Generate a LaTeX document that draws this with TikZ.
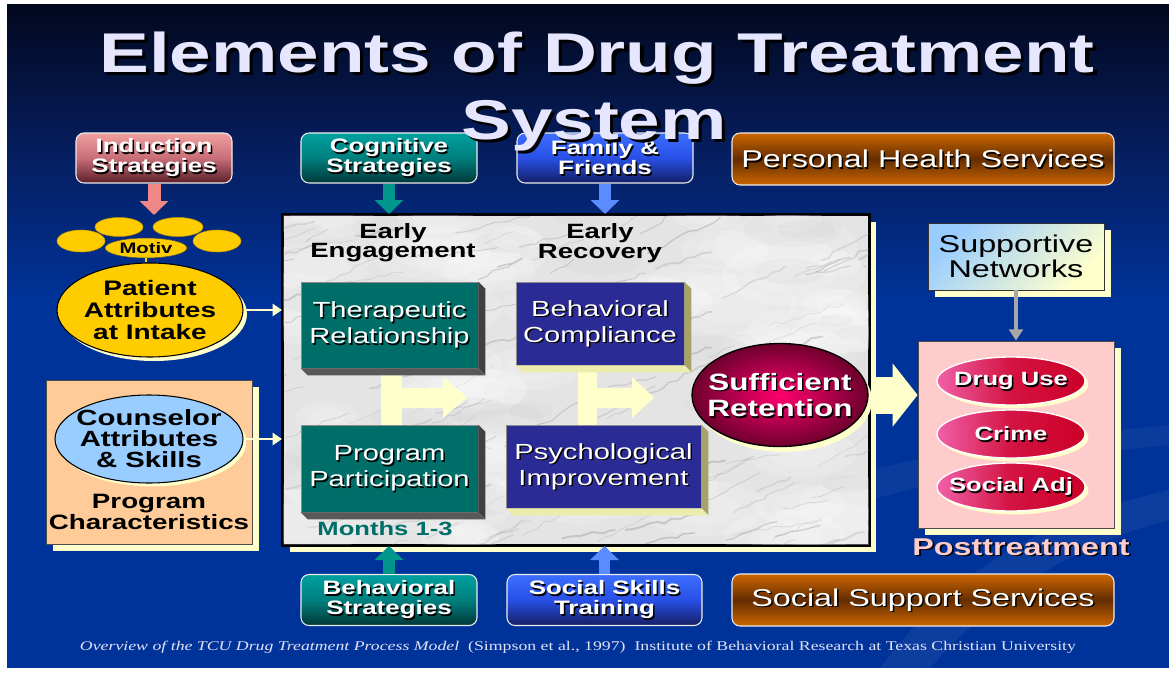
\documentclass[tikz,border=0pt]{standalone}
\usepackage{fontspec}
\setmainfont{Liberation Sans}[FakeStretch=1.333]
\newfontfamily\footfont{Liberation Serif}[FakeStretch=1.333]
\usetikzlibrary{shapes.geometric, arrows.meta, shadows, decorations.pathmorphing, calc}

% palette
\definecolor{slideblue}{RGB}{0,51,153}
\definecolor{navytop}{RGB}{2,8,30}
\definecolor{navymid}{RGB}{6,30,95}
\definecolor{titlec}{RGB}{230,230,255}
\definecolor{paleyellow}{RGB}{255,255,204}
\definecolor{gold}{RGB}{255,204,0}
\definecolor{golddark}{RGB}{200,150,0}
\definecolor{peach}{RGB}{255,204,153}
\definecolor{skyblue}{RGB}{153,204,255}
\definecolor{pinkbox}{RGB}{255,204,204}
\definecolor{tealface}{RGB}{0,110,104}
\definecolor{indigoface}{RGB}{43,43,150}
\definecolor{tealarr}{RGB}{0,150,140}
\definecolor{bluearr}{RGB}{90,140,255}
\definecolor{pinkarr}{RGB}{240,136,136}
\definecolor{marble}{RGB}{228,228,228}
\definecolor{pinktop}{RGB}{240,160,160}
\definecolor{pinkmid}{RGB}{200,110,120}
\definecolor{pinkbot}{RGB}{90,30,40}
\definecolor{tealtop}{RGB}{0,160,160}
\definecolor{tealmid}{RGB}{0,128,126}
\definecolor{tealbot}{RGB}{0,55,55}
\definecolor{bluetop}{RGB}{60,110,255}
\definecolor{bluemid}{RGB}{40,80,230}
\definecolor{bluebot}{RGB}{20,30,100}
\definecolor{orangetop}{RGB}{204,102,0}
\definecolor{orangemid}{RGB}{100,45,0}
\definecolor{suffin}{RGB}{255,0,110}
\definecolor{suffout}{RGB}{110,0,45}
\definecolor{ellpink}{RGB}{240,96,168}
\definecolor{ellred}{RGB}{204,0,40}
\definecolor{footc}{RGB}{225,225,245}
\definecolor{postc}{RGB}{255,204,204}

% text with a small dark drop shadow
\newcommand\txtsh[2][1.1pt]{\leavevmode\rlap{\raisebox{-#1}[0pt][0pt]{\kern#1\textcolor{black}{#2}}}#2}
% side and bottom faces of a raised box
\newcommand\extrude[4]{%
  \fill[#3] (#1.north east) -- ++(#2,#2) -- ($(#1.south east)+(#2,#2)$) -- (#1.south east) -- cycle;
  \fill[#4] (#1.south west) -- ++(#2,#2) -- ($(#1.south east)+(#2,#2)$) -- (#1.south east) -- cycle;}

\tikzset{
  titletext/.style={anchor=base, inner sep=0pt, text=titlec, font=\fontsize{42}{42}\selectfont\bfseries},
  gbox/.style={draw=white!85!gray, line width=0.8pt, rounded corners=6pt, inner sep=0pt,
    align=center, text=white, font=\fontsize{14.6}{15}\selectfont\bfseries},
  sbox/.style={gbox, font=\fontsize{18.2}{20}\selectfont},
  pinkg/.style={top color=pinktop, bottom color=pinkbot, middle color=pinkmid},
  tealg/.style={top color=tealtop, bottom color=tealbot, middle color=tealmid},
  blueg/.style={top color=bluetop, bottom color=bluebot, middle color=bluemid},
  orangeg/.style={top color=orangetop, bottom color=orangetop, middle color=orangemid},
  pshadow/.style={general shadow={fill=paleyellow, shadow xshift=5pt, shadow yshift=-5pt}},
  sshadow/.style={general shadow={fill=paleyellow, shadow xshift=2.5pt, shadow yshift=-2.5pt}},
  blockarrow/.style={line width=8.5pt, -{Triangle[width=21pt,length=10.5pt]}},
  thinarrow/.style={paleyellow, line width=2pt, -{Triangle[width=9pt,length=7pt]}},
  grayarrow/.style={gray!70, line width=2.4pt, -{Triangle[width=10.5pt,length=8.5pt]}},
  face/.style={draw=black!45, line width=0.5pt, inner sep=0pt, align=center, text=white,
    font=\fontsize{16.4}{19.5}\selectfont},
  hdr/.style={inner sep=0pt, align=center, text=black, font=\fontsize{15.5}{14.5}\selectfont\bfseries},
  lbl/.style={inner sep=0pt, align=center},
  goldell/.style={ellipse, fill=gold, draw=golddark, line width=0.4pt, inner sep=0pt},
  outell/.style={ellipse, draw=white, line width=1pt, inner sep=0pt, left color=ellpink,
    right color=ellred, middle color=ellred!80!ellpink,
    minimum width=111pt, minimum height=36pt, sshadow},
  outlbl/.style={lbl, text=white, font=\fontsize{14.4}{15}\selectfont\bfseries},
}

\begin{document}
\begin{tikzpicture}[x=0.75pt,y=-0.75pt]
\useasboundingbox (0,0) rectangle (1169,674);
% slide background
\fill[white] (0,0) rectangle (1169,674);
\fill[slideblue] (7,5) rectangle (1169,668);
\shade[top color=navytop, bottom color=slideblue, middle color=navymid] (7,5) rectangle (1169,300);
\fill[white, opacity=0.05] (880,668) .. controls (960,560) and (1060,515) .. (1169,490)
  -- (1169,520) .. controls (1070,545) and (990,600) .. (930,668) -- cycle;
\fill[white, opacity=0.04] (870,470) .. controls (950,450) and (1060,435) .. (1169,425)
  -- (1169,445) .. controls (1060,455) and (960,475) .. (870,500) -- cycle;

% top row
\node[gbox, pinkg, minimum width=117pt, minimum height=37.5pt] (ind) at (154,158) {\txtsh{Induction}\\\txtsh{Strategies}};
\node[gbox, tealg, minimum width=132pt, minimum height=37.5pt] (cog) at (389,158) {\txtsh{Cognitive}\\\txtsh{Strategies}};
\node[gbox, blueg, minimum width=132pt, minimum height=37.5pt] (fam) at (605,158) {\txtsh{Family \&}\\\txtsh{Friends}};
\node[sbox, orangeg, minimum width=286.5pt, minimum height=39pt] (phs) at (923,159) {\txtsh{Personal Health Services}};

% bottom row
\node[gbox, tealg, minimum width=132pt, minimum height=38.25pt] (beh) at (389,600) {\txtsh{Behavioral}\\\txtsh{Strategies}};
\node[gbox, blueg, minimum width=146.25pt, minimum height=38.25pt] (ssk) at (604.5,600) {\txtsh{Social Skills}\\\txtsh{Training}};
\node[sbox, orangeg, minimum width=286.5pt, minimum height=39pt] (sss) at (923,600) {\txtsh{Social Support Services}};

% main treatment panel with a marble surface
\node[draw=black, line width=1.5pt, fill=marble, inner sep=0pt, minimum width=439.5pt,
  minimum height=247.5pt, pshadow] (main) at (576,380) {};
\begin{scope}
  \clip (main.south west) rectangle (main.north east);
  \pgfmathsetseed{2718}
  \foreach \i in {1,...,70}{
    \pgfmathsetmacro\cx{283+rnd*586}
    \pgfmathsetmacro\cy{215+rnd*330}
    \pgfmathsetmacro\rr{25+rnd*50}
    \fill[white, opacity=0.18] (\cx,\cy) ellipse [x radius=\rr, y radius=0.45*\rr];
    \fill[white, opacity=0.15] (\cx,\cy) ellipse [x radius=0.6*\rr, y radius=0.27*\rr];
  }
  \foreach \i in {1,...,30}{
    \pgfmathsetmacro\cx{283+rnd*586}
    \pgfmathsetmacro\cy{215+rnd*330}
    \pgfmathsetmacro\rr{15+rnd*35}
    \fill[black!30, opacity=0.08] (\cx,\cy) ellipse [x radius=\rr, y radius=0.35*\rr];
  }
  \foreach \i in {1,...,150}{
    \pgfmathsetmacro\cx{240+rnd*650}
    \pgfmathsetmacro\cy{205+rnd*380}
    \pgfmathsetmacro\ll{20+rnd*70}
    \pgfmathsetmacro\sl{-0.15-rnd*0.45}
    \pgfmathtruncatemacro\gv{30+rnd*30}
    \pgfmathsetmacro\lw{0.3+rnd*1.2}
    \draw[black!\gv, line width=\lw pt, opacity=0.28, line cap=round, decorate,
      decoration={random steps, segment length=6pt, amplitude=1.5pt}] (\cx,\cy) -- ++(\ll,\ll*\sl);
  }
\end{scope}
\draw[line width=1.5pt] (main.south west) rectangle (main.north east);

% arrows into the panel
\draw[blockarrow, tealarr] (cog.south) -- (cog.south |- main.north);
\draw[blockarrow, bluearr] (fam.south) -- (fam.south |- main.north);
\draw[blockarrow, tealarr] (beh.north) -- (beh.north |- main.south);
\draw[blockarrow, bluearr] (ssk.north) -- (ssk.north |- main.south);

% phase headings
\node[hdr] (ee) at (393,243) {Early\\Engagement};
\node[hdr] (er) at (600,243) {Early\\Recovery};

% flow arrows between the phase boxes
\fill[paleyellow] (381,362) rectangle (402,430);
\fill[paleyellow] (402,388) -- (443,388) -- (443,377) -- (467,397.5) -- (443,418) -- (443,408) -- (402,408) -- cycle;
\fill[paleyellow] (578,362) rectangle (597,430);
\fill[paleyellow] (597,388) -- (632,388) -- (632,377) -- (654,397.5) -- (632,418) -- (632,408) -- (597,408) -- cycle;

% phase boxes
\node[face, fill=tealface, minimum width=132.75pt, minimum height=64.5pt] (ther) at (389.5,325) {\txtsh{Therapeutic}\\\txtsh{Relationship}};
\extrude{ther}{7}{black!75}{black!65}
\node[face, fill=tealface, minimum width=132.75pt, minimum height=65.25pt] (ppart) at (389.5,468.5) {\txtsh{Program}\\\txtsh{Participation}};
\extrude{ppart}{7}{black!75}{black!65}
\node[face, fill=indigoface, minimum width=126pt, minimum height=62.25pt] (bcomp) at (600,323.5) {\txtsh{Behavioral}\\\txtsh{Compliance}};
\extrude{bcomp}{7}{olive!45!gray!80}{paleyellow!85!olive}
\node[face, fill=indigoface, minimum width=146.25pt, minimum height=62.25pt] (psych) at (603.5,466.5) {\txtsh{Psychological}\\\txtsh{Improvement}};
\extrude{psych}{7}{olive!45!gray!80}{paleyellow!85!olive}
\node[lbl, text=tealface, font=\fontsize{14.4}{15}\selectfont\bfseries] (months) at (385,529) {Months 1-3};

% retention
\node[ellipse, draw=black, line width=1pt, inner color=suffin, outer color=suffout, inner sep=0pt,
  minimum width=132pt, minimum height=77.25pt,
  general shadow={fill=paleyellow, shadow xshift=3pt, shadow yshift=-4pt}] (suff) at (780,395) {};
\node[lbl, text=white, font=\fontsize{17.7}{20}\selectfont\bfseries] (suffl) at (suff.center)
  {\txtsh{Sufficient}\\\txtsh{Retention}};

% patient side
\node[goldell, minimum width=36pt, minimum height=16.5pt] (ma) at (81,241) {};
\node[goldell, minimum width=36pt, minimum height=14.25pt] (mb) at (119,227) {};
\node[goldell, minimum width=37.5pt, minimum height=14.25pt] (mc) at (178,227) {};
\node[goldell, minimum width=36pt, minimum height=16.5pt] (md) at (217,241) {};
\node[goldell, draw=black!70, minimum width=61.5pt, minimum height=15pt] (motiv) at (146,248) {};
\node[lbl, font=\fontsize{11.4}{12}\selectfont\bfseries] (motivl) at (motiv.center) {Motiv};
\node[ellipse, draw=black, line width=0.8pt, fill=gold, inner sep=0pt, minimum width=139.5pt,
  minimum height=70.5pt,
  general shadow={fill=paleyellow, shadow xshift=3pt, shadow yshift=-3pt}] (pat) at (150,310) {};
\node[lbl, font=\fontsize{15.75}{16.5}\selectfont\bfseries] (patl) at (pat.center) {Patient\\Attributes\\at Intake};
\draw[gold, line width=1.5pt] (motiv.south) -- (motiv.south |- pat.north);
\coordinate (motivgap) at (154,215);
\draw[blockarrow, pinkarr, line width=9.75pt] (ind.south) -- (motivgap);
\draw[thinarrow] (pat.east) -- (pat.east -| main.west);

% program side
\node[draw=black!70, line width=0.6pt, fill=peach, inner sep=0pt, minimum width=154.5pt,
  minimum height=123pt, pshadow] (prog) at (149,462) {};
\node[ellipse, draw=black, line width=0.8pt, fill=skyblue, inner sep=0pt, minimum width=141pt,
  minimum height=66pt,
  general shadow={fill=paleyellow, shadow xshift=2.5pt, shadow yshift=-2.5pt}] (couns) at (149,439) {};
\node[lbl, font=\fontsize{16.5}{15.75}\selectfont\bfseries] (counsl) at (couns.center)
  {Counselor\\Attributes\\\& Skills};
\node[lbl, font=\fontsize{15.6}{15.75}\selectfont\bfseries] (progl) at (149,512)
  {Program\\Characteristics};
\draw[thinarrow] (couns.east) -- (couns.east -| main.west);

% posttreatment side
\node[draw=black!80, line width=0.6pt, top color=skyblue, bottom color=paleyellow, shading angle=45,
  inner sep=0pt, minimum width=132pt, minimum height=50.25pt, align=center,
  font=\fontsize{18.2}{18.75}\selectfont, pshadow] (supp) at (1016,256.5) {Supportive\\Networks};
\node[draw=black!70, line width=0.6pt, fill=pinkbox, inner sep=0pt, minimum width=147pt,
  minimum height=140.25pt, pshadow] (post) at (1016,434.5) {};
\node[outell] (drug) at (1011,381) {};
\node[outlbl] (drugl) at (drug.center) {\txtsh{Drug Use}};
\node[outell] (crime) at (1011,434) {};
\node[outlbl] (crimel) at (crime.center) {\txtsh{Crime}};
\node[outell] (sadj) at (1011,487) {};
\node[outlbl] (sadjl) at (sadj.center) {\txtsh{Social Adj}};
\node[lbl, text=postc, font=\fontsize{18.2}{19}\selectfont\bfseries] (postl) at (1021,547)
  {\txtsh[1.3pt]{Posttreatment}};
\draw[grayarrow] (supp.south) -- (post.north);
\draw[paleyellow, line width=27.75pt, -{Triangle[width=46.5pt,length=18.75pt]}]
  ($(main.east |- suff.center)+(1,0)$) -- (post.west |- suff.center);

% title
\node[titletext] (t1) at (597,72) {\txtsh[2.4pt]{Elements of Drug Treatment}};
\node[titletext] (t2) at (594,139) {\txtsh[2.4pt]{System}};

% source line
\node[lbl, text=footc, font=\footfont\fontsize{10}{11}\selectfont] (foot) at (578,647)
  {\textit{Overview of the TCU Drug Treatment Process Model}\ \ (Simpson et al., 1997)\ \ Institute of Behavioral Research at Texas Christian University};
\end{tikzpicture}
\end{document}
